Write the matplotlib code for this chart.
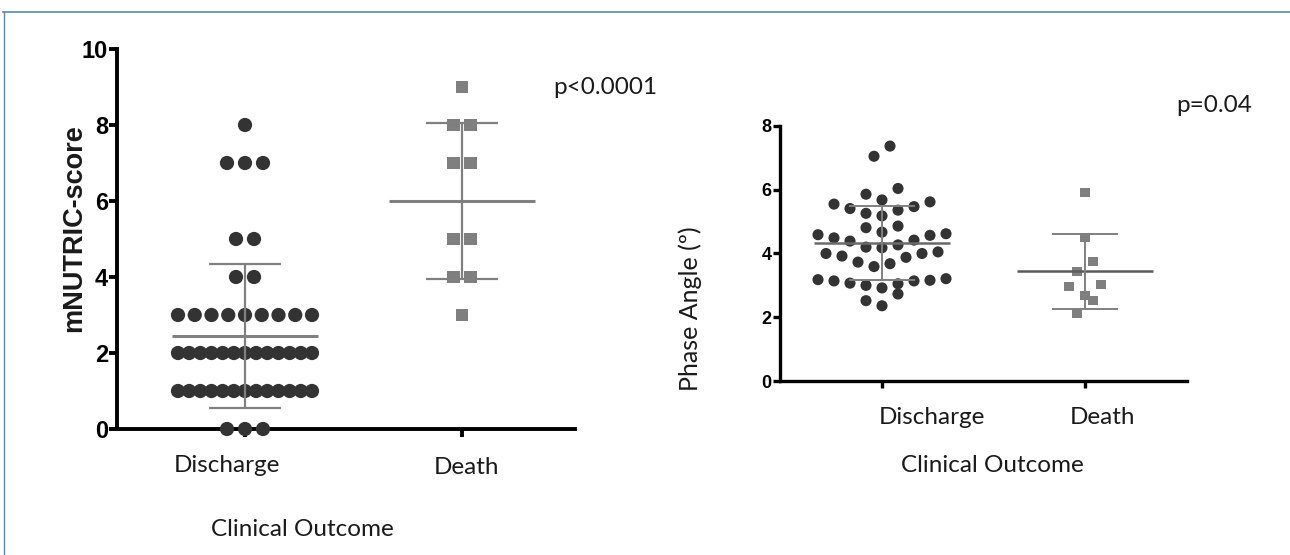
import numpy as np
import matplotlib
matplotlib.use("Agg")
import matplotlib.pyplot as plt
from matplotlib.lines import Line2D

# ---------------- data ----------------
categories = ["Discharge", "Death"]
nutric_discharge = [0, 0, 0,
                    1, 1, 1, 1, 1, 1, 1, 1, 1, 1, 1, 1, 1,
                    2, 2, 2, 2, 2, 2, 2, 2, 2, 2, 2, 2, 2,
                    3, 3, 3, 3, 3, 3, 3, 3, 3,
                    4, 4, 5, 5, 7, 7, 7, 8]
nutric_death = [3, 4, 4, 5, 5, 7, 7, 8, 8, 9]
phase_discharge = [7.37, 7.05, 6.04, 5.86, 5.68, 5.55, 5.62, 5.41, 5.47, 5.26,
                   5.18, 5.36, 4.86, 4.81, 4.59, 4.49, 4.39, 4.67, 4.57, 4.62,
                   4.20, 4.18, 4.27, 4.42, 4.00, 3.92, 3.73, 3.59, 3.68, 3.88,
                   4.00, 4.05, 3.18, 3.14, 3.07, 3.00, 2.92, 3.05, 3.14, 3.16,
                   3.21, 2.73, 2.36, 2.52]
phase_death = [5.91, 4.51, 3.75, 3.44, 2.96, 3.02, 2.69, 2.53, 2.11]
nutric_ticks = [0, 2, 4, 6, 8, 10]
phase_ticks = [0, 2, 4, 6, 8]
p_left = "p<0.0001"
p_right = "p=0.04"
xlabel = "Clinical Outcome"
ylabel_left = "mNUTRIC-score"
ylabel_right = "Phase Angle (º)"

# ---------------- styling ----------------
W, H = 1290, 555
DOT = "#333333"
SQ = "#7f7f7f"
ERR = "#808080"
TXT_FONT = ["Lato", "DejaVu Sans"]
NUM_FONT = ["Liberation Sans", "DejaVu Sans"]
NARROW_FONT = ["Liberation Sans Narrow", "Liberation Sans", "DejaVu Sans"]


def row_swarm(values, bin_h, step, max_width):
    """GraphPad-like scatter: bin by value, spread each bin symmetrically."""
    vals = np.asarray(values, float)
    order = np.argsort(vals, kind="stable")
    offs = np.zeros(len(vals))
    i = 0
    while i < len(order):
        start = vals[order[i]]
        j = i
        while j < len(order) and vals[order[j]] < start + bin_h - 1e-9:
            j += 1
        idx = order[i:j]
        n = len(idx)
        s = step if n < 2 else min(step, max_width / (n - 1))
        slots = []
        if n % 2 == 1:
            slots.append(0.0)
            k = 1
            while len(slots) < n:
                slots += [-k, k]
                k += 1
        else:
            k = 0.5
            while len(slots) < n:
                slots += [-k, k]
                k += 1
        for p, sl in zip(idx, slots[:n]):
            offs[p] = sl * s
        i = j
    return offs


def px_axes(l, t, r, b):
    return [l / W, 1 - b / H, (r - l) / W, (b - t) / H]


fig = plt.figure(figsize=(W / 100, H / 100), dpi=100)
fig.patch.set_facecolor("white")

# ---------------- left panel ----------------
axL = fig.add_axes(px_axes(117, 49, 575, 429))
ppuL = 462 - 245
axL.set_xlim(-(245 - 117) / ppuL, 1 + (575 - 462) / ppuL)
axL.set_ylim(0, 10)

offD = row_swarm(nutric_discharge, 0.5, 18 / ppuL, 134 / ppuL)
axL.scatter(0 + offD, nutric_discharge, s=105, marker="o", color=DOT,
            edgecolors="none", zorder=4, clip_on=False)
offX = row_swarm(nutric_death, 0.5, 17 / ppuL, 134 / ppuL)
axL.scatter(1 + offX, nutric_death, s=80, marker="s", color=SQ,
            edgecolors="none", zorder=4, clip_on=False)

for xc, vals in [(0, nutric_discharge), (1, nutric_death)]:
    m = np.mean(vals)
    sd = np.std(vals, ddof=1)
    axL.hlines(m, xc - 0.335, xc + 0.335, color=ERR, lw=2.2, zorder=5)
    axL.hlines([m - sd, m + sd], xc - 0.168, xc + 0.168, color=ERR, lw=1.6, zorder=5)
    axL.vlines(xc, m - sd, m + sd, color=ERR, lw=1.6, zorder=5)

for sp in ["top", "right"]:
    axL.spines[sp].set_visible(False)
for sp in ["left", "bottom"]:
    axL.spines[sp].set_linewidth(2.8)
axL.set_yticks(nutric_ticks)
axL.set_yticklabels([str(t) for t in nutric_ticks], fontfamily=NARROW_FONT,
                    fontweight="bold", fontsize=17)
axL.set_xticks([0, 1])
axL.set_xticklabels([])
axL.tick_params(axis="both", length=6, width=2.8, pad=0.5)

# ---------------- right panel ----------------
axR = fig.add_axes(px_axes(780, 126, 1187, 381))
ppuR = 1085 - 882
axR.set_xlim(-(882 - 780) / ppuR, 1 + (1187 - 1085) / ppuR)
axR.set_ylim(0, 8)

offRD = row_swarm(phase_discharge, 0.47, 16 / ppuR, 200 / ppuR)
axR.scatter(0 + offRD, phase_discharge, s=64, marker="o", color=DOT,
            edgecolors="none", zorder=4)
offRX = row_swarm(phase_death, 0.47, 16 / ppuR, 200 / ppuR)
axR.scatter(1 + offRX, phase_death, s=46, marker="s", color=SQ,
            edgecolors="none", zorder=4)

for xc, vals, mc in [(0, phase_discharge, "#6a6a6a"), (1, phase_death, "#5a5a5a")]:
    m = np.mean(vals)
    sd = np.std(vals, ddof=1)
    axR.hlines(m, xc - 0.335, xc + 0.335, color=mc, lw=1.8, zorder=5)
    axR.hlines([m - sd, m + sd], xc - 0.162, xc + 0.162, color=ERR, lw=1.4, zorder=5)
    axR.vlines(xc, m - sd, m + sd, color=ERR, lw=1.4, zorder=5)

for sp in ["top", "right"]:
    axR.spines[sp].set_visible(False)
for sp in ["left", "bottom"]:
    axR.spines[sp].set_linewidth(2.4)
axR.set_yticks(phase_ticks)
axR.set_yticklabels([str(t) for t in phase_ticks], fontfamily=NUM_FONT,
                    fontweight="bold", fontsize=13)
axR.set_xticks([0, 1])
axR.set_xticklabels([])
axR.tick_params(axis="both", length=5, width=2.4, pad=1)

# ---------------- free texts ----------------
def ftext(x, y, s, **kw):
    fig.text(x / W, 1 - y / H, s, **kw)

tkw = dict(fontfamily=TXT_FONT, fontsize=17.5, color="#1a1a1a")
ftext(227, 466, categories[0], ha="center", va="center", **tkw)
ftext(467, 468, categories[1], ha="center", va="center", **tkw)
ftext(302, 530, xlabel, ha="center", va="center", **tkw)
ftext(553, 87, p_left, ha="left", va="center", **tkw)
ftext(932, 417, categories[0], ha="center", va="center", **tkw)
ftext(1103, 417, categories[1], ha="center", va="center", **tkw)
ftext(992, 465, xlabel, ha="center", va="center", **tkw)
ftext(1176, 105, p_right, ha="left", va="center", **tkw)
ftext(690, 309, ylabel_right, ha="center", va="center", rotation=90,
      fontfamily=TXT_FONT, fontsize=18, color="#1a1a1a")
ftext(74, 228, ylabel_left, ha="center", va="center", rotation=90,
      fontfamily=NUM_FONT, fontweight="bold", fontsize=19.5, color="#1a1a1a")

# ---------------- frame lines ----------------
bc = "#5b88b2"
fig.add_artist(Line2D([3 / W, 1], [1 - 11.5 / H] * 2, color=bc, lw=1.2,
                      transform=fig.transFigure))
fig.add_artist(Line2D([3.5 / W] * 2, [0, 1 - 11.5 / H], color=bc, lw=1.0,
                      transform=fig.transFigure))

fig.savefig("out.png", dpi=100, facecolor="white")
